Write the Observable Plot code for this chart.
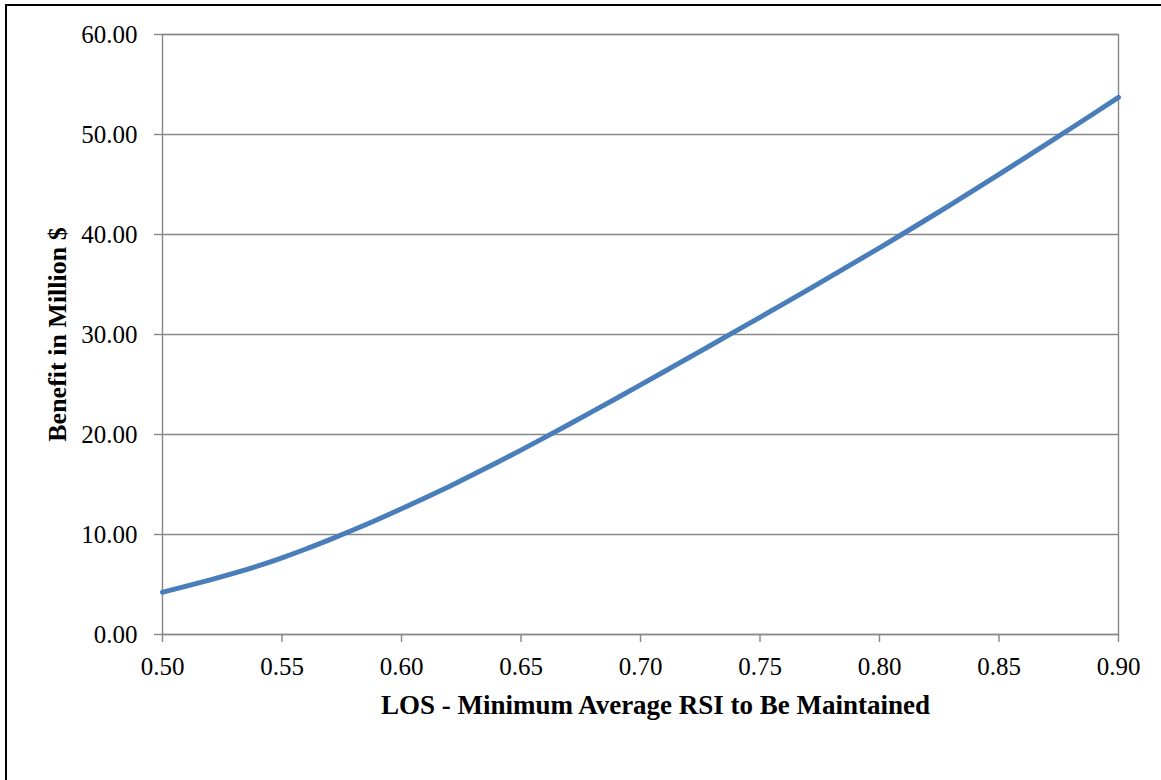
<!DOCTYPE html>
<html>
<head>
<meta charset="utf-8">
<script src="https://cdn.jsdelivr.net/npm/d3@7"></script>
<script src="https://cdn.jsdelivr.net/npm/@observablehq/plot@0.6"></script>
<style>
  html, body { margin: 0; padding: 0; background: #fff; overflow: hidden; }
  #wrap { position: relative; width: 1161px; height: 780px; }
  #border { position: absolute; left: 5px; top: 4px; width: 1300px; height: 1000px; border: 2px solid #000; pointer-events: none; }
  #chart { position: absolute; left: 0; top: 0; }
  #chart svg text { font-family: "Liberation Serif", "Times New Roman", serif !important; fill: #000; }
  #chart svg g[aria-label="x-axis tick label"] text, #chart svg g[aria-label="y-axis tick label"] text { font-size: 25px !important; }
  #chart svg g[aria-label="y-axis label"] text { font-weight: bold; font-size: 26px !important; }
</style>
</head>
<body>
<div id="wrap"><div id="chart"></div><div id="border"></div></div>
<script>
const los = [0.50,0.51,0.52,0.53,0.54,0.55,0.56,0.57,0.58,0.59,0.60,0.61,0.62,0.63,0.64,0.65,0.66,0.67,0.68,0.69,0.70,0.71,0.72,0.73,0.74,0.75,0.76,0.77,0.78,0.79,0.80,0.81,0.82,0.83,0.84,0.85,0.86,0.87,0.88,0.89,0.90];
const benefit = [4.23,4.83,5.46,6.13,6.86,7.67,8.55,9.49,10.47,11.50,12.57,13.67,14.81,15.99,17.20,18.44,19.71,21.00,22.31,23.63,24.96,26.30,27.65,29.00,30.36,31.72,33.09,34.47,35.86,37.26,38.67,40.10,41.55,43.02,44.51,46.01,47.53,49.06,50.60,52.15,53.71];
const xTicks = [0.50,0.55,0.60,0.65,0.70,0.75,0.80,0.85,0.90];
const yTicks = [0,10,20,30,40,50,60];
const xLabel = "LOS - Minimum Average RSI to Be Maintained";
const yLabel = "Benefit in Million $";

const data = los.map((x, i) => ({x, y: benefit[i]}));
const grid = "#878787";

const chart = Plot.plot({
  width: 1161,
  height: 780,
  marginLeft: 162,
  marginRight: 43,
  marginTop: 34,
  marginBottom: 146,
  style: {fontFamily: "Liberation Serif, Times New Roman, serif", fontSize: "25px", color: "#000", background: "#fff"},
  x: {domain: [0.5, 0.9]},
  y: {domain: [0, 60]},
  marks: [
    Plot.gridY(yTicks, {stroke: grid, strokeOpacity: 1, strokeWidth: 1.4}),
    Plot.frame({stroke: grid, strokeWidth: 1.4}),
    Plot.axisY({ticks: yTicks, tickFormat: d3.format(".2f"), tickSize: 8, tickPadding: 17, stroke: grid, strokeWidth: 1.4, fill: "#000",
      label: yLabel, labelAnchor: "center", labelArrow: "none", labelOffset: 115}),
    Plot.axisX({ticks: xTicks, tickFormat: d3.format(".2f"), tickSize: 8, tickPadding: 15, stroke: grid, strokeWidth: 1.4, fill: "#000",
      label: null}),
    Plot.text([xLabel], {text: d => d, frameAnchor: "bottom", dx: 15, dy: 79, lineAnchor: "bottom", fill: "#000", fontSize: 27, fontWeight: "bold"}),
    Plot.line(data, {x: "x", y: "y", stroke: "#4a7ebb", strokeWidth: 5, curve: "natural"})
  ]
});
document.getElementById("chart").appendChild(chart);
</script>
</body>
</html>
